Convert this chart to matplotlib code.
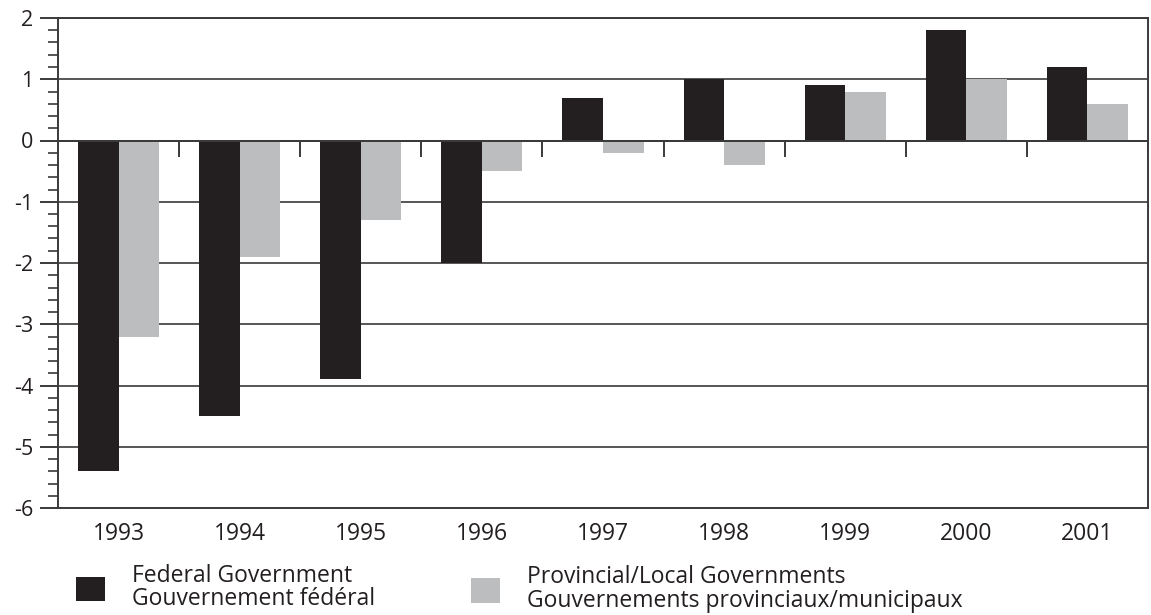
import numpy as np
import matplotlib.pyplot as plt
from matplotlib.ticker import MultipleLocator

plt.rcParams['font.family'] = ['Open Sans', 'DejaVu Sans']

years = ['1993', '1994', '1995', '1996', '1997', '1998', '1999', '2000', '2001']
federal = [-5.4, -4.5, -3.9, -2.0, 0.7, 1.0, 0.9, 1.8, 1.2]
provincial = [-3.2, -1.9, -1.3, -0.5, -0.2, -0.4, 0.8, 1.0, 0.6]
federal_label = 'Federal Government\nGouvernement fédéral'
provincial_label = 'Provincial/Local Governments\nGouvernements provinciaux/municipaux'

black = '#231f20'
gray = '#bcbdbf'
line_col = '#3a3a3a'

fig = plt.figure(figsize=(11.51, 6.15), dpi=100)
ax = fig.add_axes([58 / 1151, 1 - 508 / 615, 1090 / 1151, 490 / 615])

x = np.arange(len(years))
width = 0.335

# gridlines at integers
for v in range(-5, 3):
    ax.axhline(v, color=line_col, lw=1.2, zorder=1)

b1 = ax.bar(x - width / 2, federal, width, color=black, zorder=2, label=federal_label)
b2 = ax.bar(x + width / 2, provincial, width, color=gray, zorder=2, label=provincial_label)

ax.axhline(0, color=line_col, lw=1.4, zorder=3)
# category separators hanging below the zero line
bounds = np.arange(len(years) + 1) - 0.5
ax.vlines(bounds[1:], -0.27, 0, color=line_col, lw=1.4, zorder=3)

ax.set_xlim(-0.5, len(years) - 0.5)
ax.set_ylim(-6, 2)

ax.set_yticks(range(-6, 3))
ax.set_yticklabels([str(v) for v in range(-6, 3)])
ax.yaxis.set_minor_locator(MultipleLocator(0.2))
ax.tick_params(axis='y', which='major', length=13, width=1.4, color=line_col,
               labelsize=15.5, pad=5, labelcolor='#231f20')
ax.tick_params(axis='y', which='minor', length=7, width=1.2, color=line_col)

ax.set_xticks(x)
ax.set_xticklabels(years)
ax.tick_params(axis='x', length=0, labelsize=16.5, pad=10, labelcolor='#231f20')

for s in ['left', 'bottom', 'right', 'top']:
    ax.spines[s].set_color(line_col)
    ax.spines[s].set_linewidth(1.4)

leg_kw = dict(loc='center left', frameon=False, fontsize=16.5,
              handlelength=1.27, handleheight=1.27, handletextpad=1.18,
              labelspacing=0, borderaxespad=0, borderpad=0)
leg1 = fig.legend(handles=[b1], labels=[federal_label],
                  bbox_to_anchor=(76 / 1151, 1 - 587.5 / 615), **leg_kw)
leg2 = fig.legend(handles=[b2], labels=[provincial_label],
                  bbox_to_anchor=(471 / 1151, 1 - 589 / 615), **leg_kw)
for leg in (leg1, leg2):
    for t in leg.get_texts():
        t.set_linespacing(0.95)
        t.set_color('#231f20')

plt.savefig('out.png', dpi=100)
